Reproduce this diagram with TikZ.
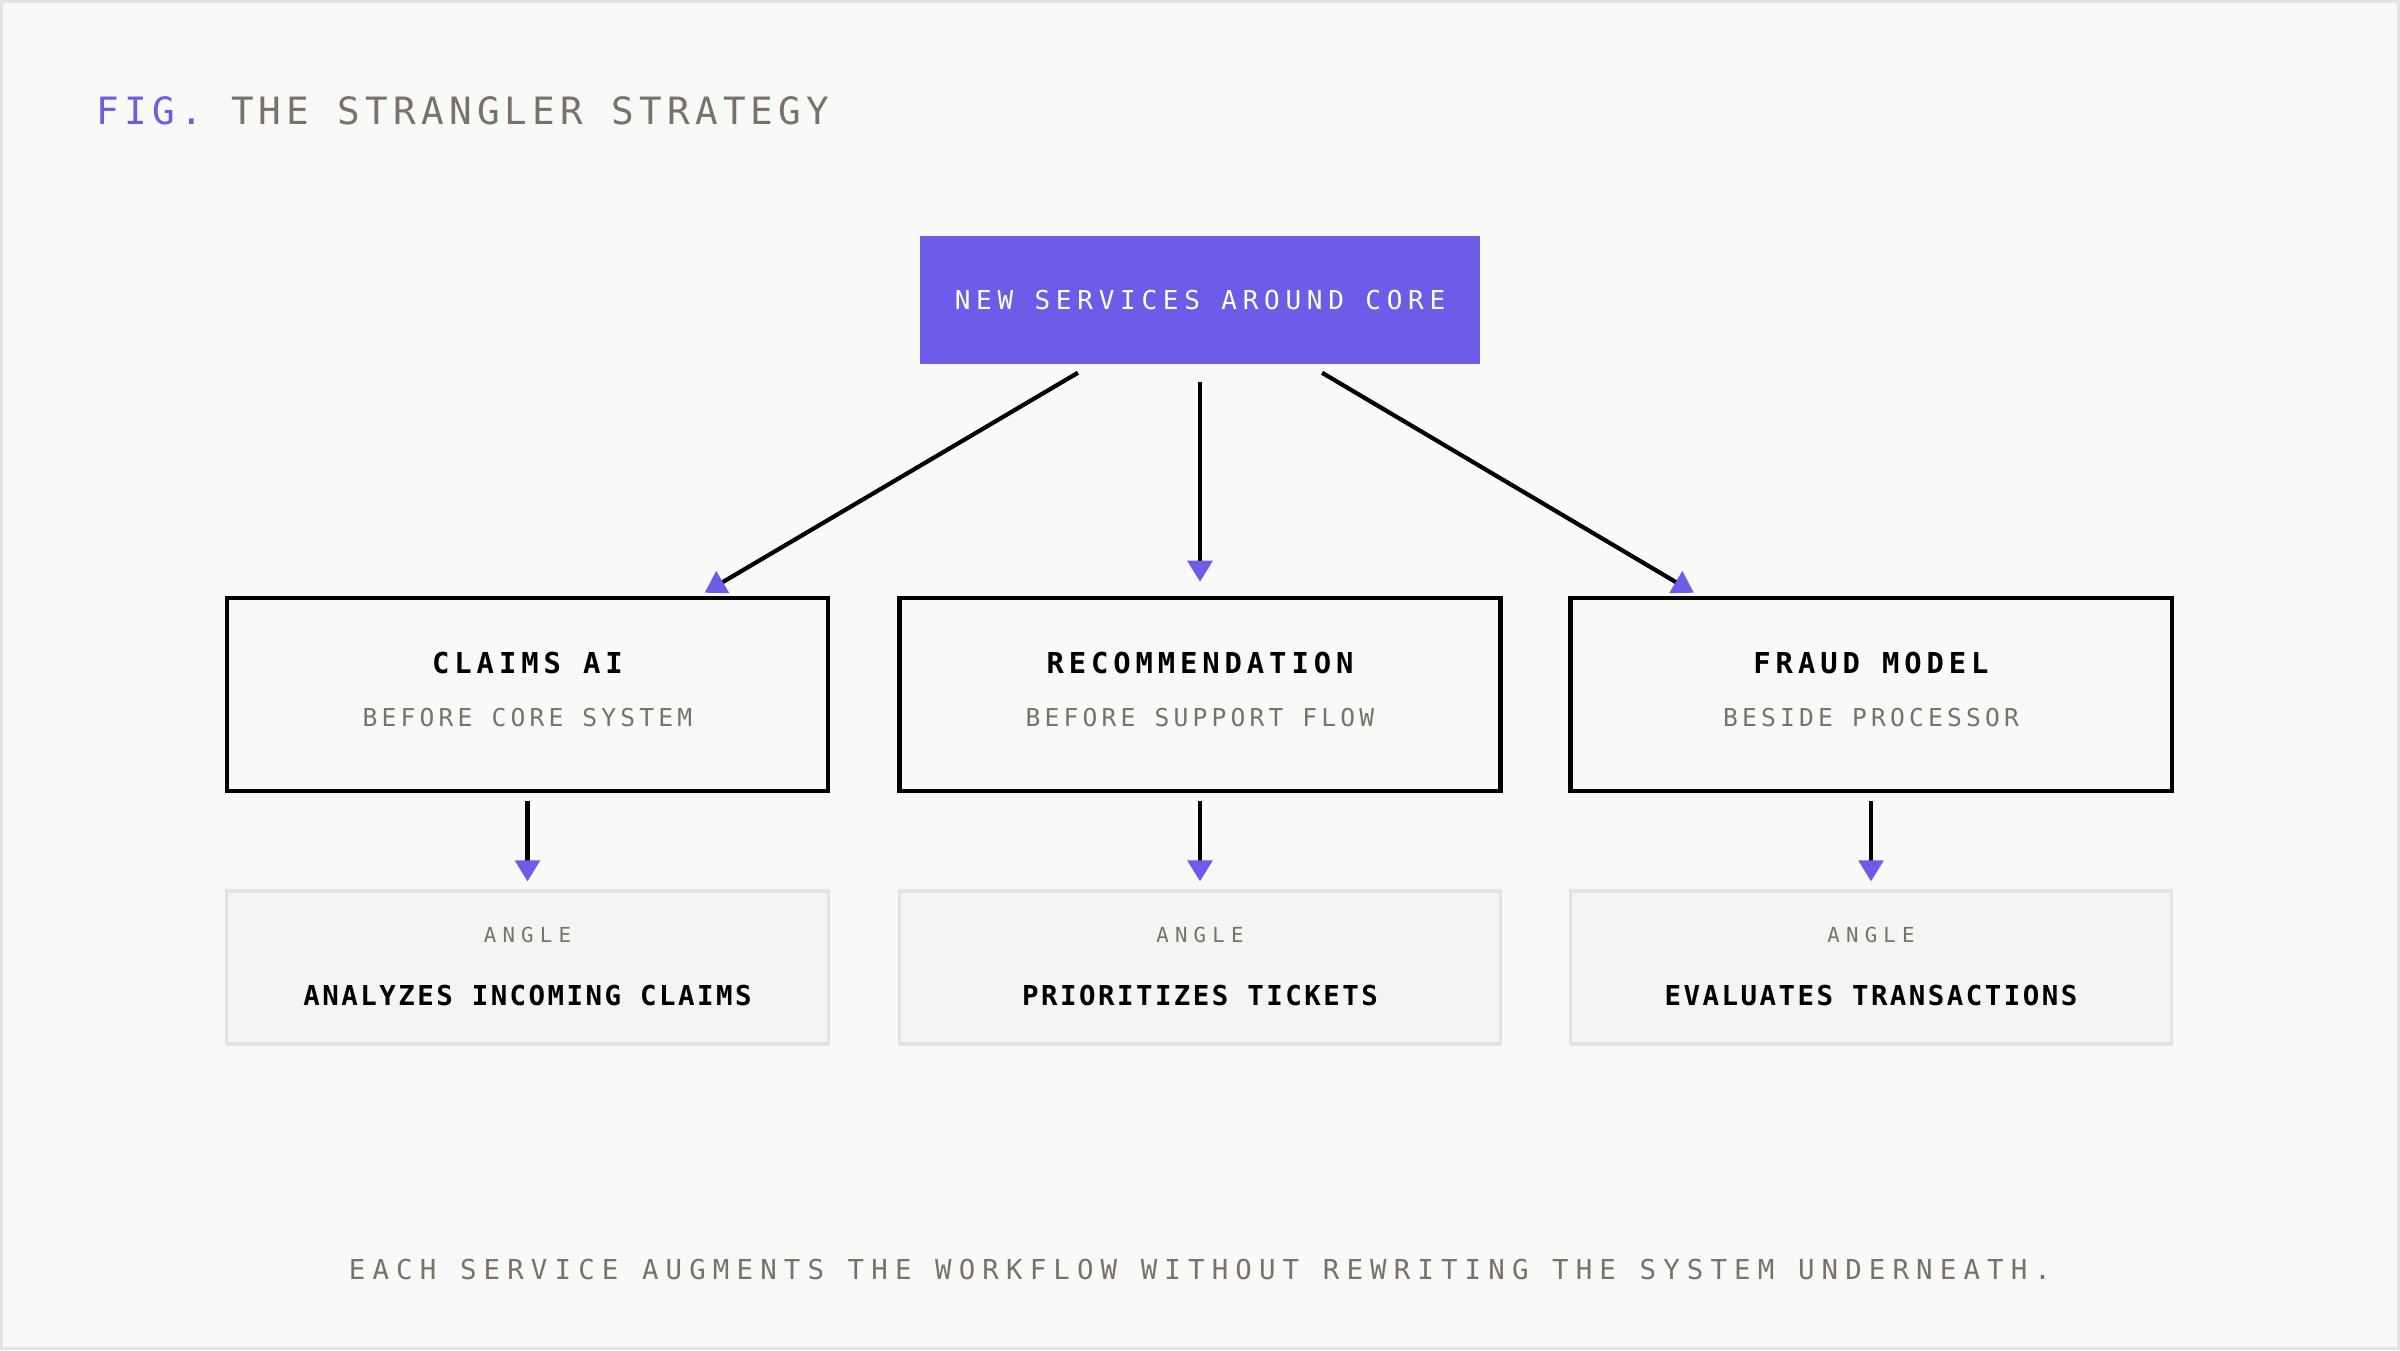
\documentclass[tikz,border=0pt]{standalone}
\usepackage{fontspec}
\setmonofont{DejaVu Sans Mono}
\usetikzlibrary{arrows.meta,positioning}
\definecolor{accent}{HTML}{6C5CE7}
\definecolor{inkgrey}{HTML}{79716B}
\definecolor{paper}{HTML}{F9F9F7}
\definecolor{rimgrey}{HTML}{E4E4E2}
\definecolor{cellfill}{HTML}{F4F4F2}
\definecolor{cellrim}{HTML}{E3E3E1}
% mono text: size, skip, tracking
\newcommand{\monotxt}[3]{\ttfamily\fontsize{#1}{#2}\selectfont\addfontfeature{LetterSpace=#3}}
\begin{document}
\begin{tikzpicture}[x=0.01cm, y=-0.01cm,
  corebox/.style={fill=accent, text=white, minimum width=5.6cm, minimum height=1.28cm, inner sep=0pt, font={\monotxt{7.4}{9}{22}}},
  stagebox/.style={draw=black, line width=1.25pt, fill=paper, minimum width=6.01cm, minimum height=1.93cm, inner sep=0pt},
  anglebox/.style={draw=cellrim, line width=0.9pt, fill=cellfill, minimum width=6.01cm, minimum height=1.53cm, inner sep=0pt},
  headtext/.style={inner sep=0pt, text=black, font={\bfseries\monotxt{8.2}{10}{17}}},
  subtext/.style={inner sep=0pt, text=inkgrey, font={\monotxt{7.0}{9}{17}}},
  tagtext/.style={inner sep=0pt, text=inkgrey, font={\monotxt{5.9}{7}{30}}},
  doestext/.style={inner sep=0pt, text=black, font={\bfseries\monotxt{7.8}{9}{9}}},
  link/.style={line width=1.2pt, -{Triangle[color=accent, length=6pt, width=7pt]}},
]
  \useasboundingbox (0,0) rectangle (2400,1350);
  \draw[draw=rimgrey, fill=paper, line width=0.85pt] (1.5,1.5) rectangle (2398.5,1348.5);

  % title
  \node[anchor=base west, inner sep=0pt, text=inkgrey, font={\monotxt{10.7}{12}{14}}] (fig) at (96,124)
    {\textcolor{accent}{FIG.} THE STRANGLER STRATEGY};

  % core
  \node[corebox] (core) at (1200,300) {NEW SERVICES AROUND CORE};

  % the three services
  \node[stagebox] (claims) at (527.5,694.5) {};
  \node[stagebox] (recom) at (1200,694.5) {};
  \node[stagebox] (fraud) at (1871,694.5) {};
  \node[headtext] (claimsHead) at (527.5,663) {CLAIMS AI};
  \node[subtext] (claimsNote) at (527.5,718) {BEFORE CORE SYSTEM};
  \node[headtext] (recomHead) at (1200,663) {RECOMMENDATION};
  \node[subtext] (recomNote) at (1200,718) {BEFORE SUPPORT FLOW};
  \node[headtext] (fraudHead) at (1871,663) {FRAUD MODEL};
  \node[subtext] (fraudNote) at (1871,718) {BESIDE PROCESSOR};

  % angles
  \node[anglebox] (claimsAngle) at (527.5,967.5) {};
  \node[anglebox] (recomAngle) at (1200,967.5) {};
  \node[anglebox] (fraudAngle) at (1871,967.5) {};
  \node[tagtext] (claimsTag) at (527.5,935) {ANGLE};
  \node[doestext] (claimsDoes) at (527.5,995) {ANALYZES INCOMING CLAIMS};
  \node[tagtext] (recomTag) at (1200,935) {ANGLE};
  \node[doestext] (recomDoes) at (1200,995) {PRIORITIZES TICKETS};
  \node[tagtext] (fraudTag) at (1871,935) {ANGLE};
  \node[doestext] (fraudDoes) at (1871,995) {EVALUATES TRANSACTIONS};

  % links from core
  \draw[link] ([xshift=-1.22cm, yshift=-0.08cm]core.south) -- ([xshift=1.77cm, yshift=0.03cm]claims.north);
  \draw[link] ([yshift=-0.17cm]core.south) -- ([yshift=0.14cm]recom.north);
  \draw[link] ([xshift=1.22cm, yshift=-0.08cm]core.south) -- ([xshift=-1.77cm, yshift=0.03cm]fraud.north);

  % links down to angles
  \draw[link] ([yshift=-0.08cm]claims.south) -- ([yshift=0.08cm]claimsAngle.north);
  \draw[link] ([yshift=-0.08cm]recom.south) -- ([yshift=0.08cm]recomAngle.north);
  \draw[link] ([yshift=-0.08cm]fraud.south) -- ([yshift=0.08cm]fraudAngle.north);

  % footer
  \node[inner sep=0pt, text=inkgrey, font={\monotxt{7.8}{9}{26}}] (footer) at (1200,1269)
    {EACH SERVICE AUGMENTS THE WORKFLOW WITHOUT REWRITING THE SYSTEM UNDERNEATH.};
\end{tikzpicture}
\end{document}
